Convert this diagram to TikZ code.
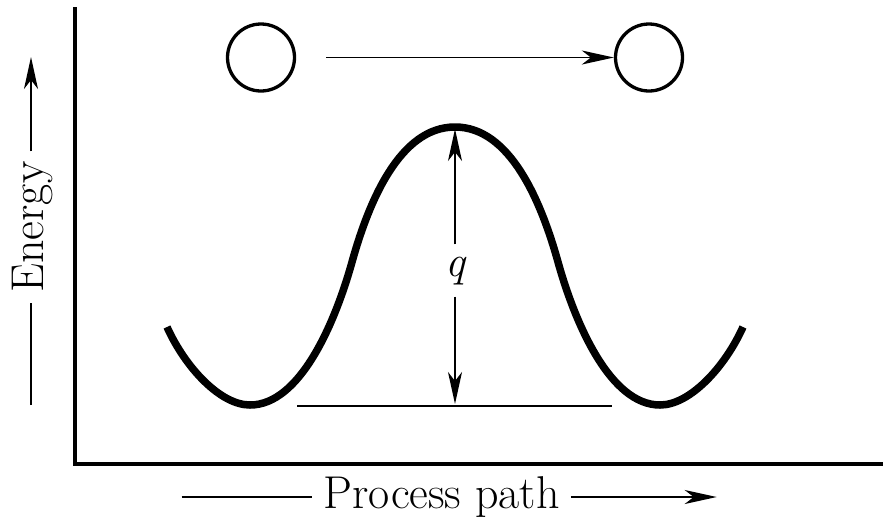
\documentclass[tikz,border=0pt]{standalone}
\usepackage{fontspec}
\usetikzlibrary{arrows.meta}
\begin{document}
\begin{tikzpicture}[x=1pt,y=-1pt,
  axisline/.style={line width=4pt},
  curveline/.style={line width=7.5pt},
  thinline/.style={line width=1.8pt},
  headed/.style={-{Stealth[length=32pt,width=14pt,inset=9pt]}},
  ball/.style={circle, draw, line width=3.3pt, minimum size=67pt, inner sep=0pt},
  lbl/.style={font=\fontsize{46}{50}\selectfont, inner ysep=0pt, inner xsep=11pt},
]
\useasboundingbox (0,0) rectangle (883,523);
% axes
\coordinate (otop) at (74.5,7);
\coordinate (origin) at (74.5,464);
\coordinate (xend) at (886,464);
\draw[axisline] (otop) -- (origin) -- (xend);

% Energy label
\node[lbl, rotate=90, inner xsep=10pt] (en) at (32.5,227) {Energy};
\coordinate (ebot) at (31,405);
\coordinate (etop) at (31,57);
\draw[thinline] (ebot) -- (ebot |- en.west);
\draw[thinline, headed] (etop |- en.east) -- (etop);

% Process path label
\node[lbl, anchor=base] (pp) at (441.7,508) {Process path};
\coordinate (pl) at (181.7,497);
\coordinate (pr) at (716.7,497);
\draw[thinline] (pl) -- (pl -| pp.west);
\draw[thinline, headed] (pr -| pp.east) -- (pr);

% circles
\node[ball] (c1) at (261,57.5) {};
\node[ball] (c2) at (649,57.5) {};
\draw[thinline, headed, shorten <=30pt] (c1) -- (c2);

% energy curve
\draw[curveline] (167,327) .. controls (185,367) and (220,405) .. (250,405)
  .. controls (300,405) and (335,323) .. (352,262)
  .. controls (369,201) and (400,127) .. (455,127)
  .. controls (510,127) and (541,201) .. (558,262)
  .. controls (575,323) and (610,405) .. (660,405)
  .. controls (690,405) and (725,367) .. (743,327);

% baseline and q
\coordinate (bl) at (297,406);
\coordinate (br) at (612,406);
\draw[thinline] (bl) -- (br);
\node[font=\itshape\fontsize{44}{48}\selectfont, inner xsep=0pt, inner ysep=12pt, anchor=base] (q) at (455,276) {q};
\coordinate (qtop) at (455,129);
\coordinate (qbot) at (455,404);
\draw[thinline, headed] (q.north) -- (qtop);
\draw[thinline, headed] (q.south) -- (qbot);
\end{tikzpicture}
\end{document}
